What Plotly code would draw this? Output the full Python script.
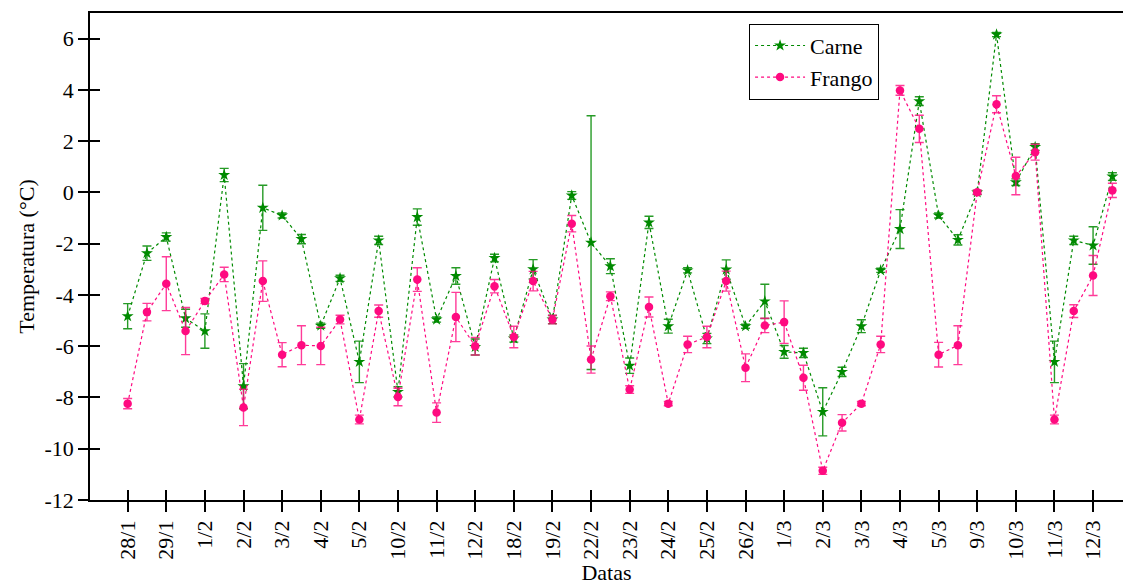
import plotly.graph_objects as go

dates = ["28/1", "29/1", "1/2", "2/2", "3/2", "4/2", "5/2", "10/2", "11/2", "12/2",
         "18/2", "19/2", "22/2", "23/2", "24/2", "25/2", "26/2", "1/3", "2/3", "3/3",
         "4/3", "5/3", "9/3", "10/3", "11/3", "12/3"]

carne = [-4.83, -2.37, -1.74, -4.91, -5.41, 0.68, -7.56, -0.60, -0.90, -1.82,
         -5.20, -3.35, -6.61, -1.87, -7.78, -0.96, -4.96, -3.26, -6.03, -2.56,
         -5.70, -3.00, -4.96, -0.12, -1.96, -2.88, -6.76, -1.17, -5.22, -3.04,
         -5.70, -3.01, -5.22, -4.25, -6.22, -6.26, -8.56, -7.00, -5.22, -3.04,
         -1.43, 3.56, -0.90, -1.85, 0.00, 6.16, 0.40, 1.77, -6.61, -1.87,
         -2.07, 0.62]
carne_err = [0.49, 0.28, 0.16, 0.35, 0.67, 0.26, 0.88, 0.88, 0.10, 0.18,
             0.10, 0.12, 0.81, 0.16, 0.20, 0.32, 0.10, 0.32, 0.31, 0.15,
             0.14, 0.38, 0.16, 0.15, 4.95, 0.29, 0.30, 0.24, 0.27, 0.10,
             0.20, 0.38, 0.08, 0.67, 0.25, 0.18, 0.94, 0.18, 0.25, 0.08,
             0.76, 0.17, 0.10, 0.20, 0.08, 0.08, 0.13, 0.13, 0.81, 0.16,
             0.73, 0.15]

frango = [-8.24, -4.67, -3.56, -5.41, -4.24, -3.20, -8.39, -3.46, -6.33, -5.96,
          -5.99, -4.96, -8.86, -4.63, -7.98, -3.40, -8.59, -4.86, -6.00, -3.66,
          -5.64, -3.46, -4.96, -1.22, -6.52, -4.05, -7.69, -4.47, -8.24, -5.93,
          -5.64, -3.46, -6.84, -5.19, -5.06, -7.23, -10.86, -8.99, -8.24, -5.93,
          3.98, 2.48, -6.33, -5.96, 0.01, 3.44, 0.64, 1.57, -8.86, -4.63,
          -3.24, 0.08]
frango_err = [0.20, 0.34, 1.05, 0.92, 0.10, 0.28, 0.71, 0.79, 0.47, 0.76,
              0.73, 0.17, 0.17, 0.24, 0.34, 0.46, 0.38, 0.96, 0.34, 0.26,
              0.42, 0.38, 0.17, 0.32, 0.53, 0.17, 0.15, 0.39, 0.08, 0.32,
              0.42, 0.39, 0.54, 0.28, 0.83, 0.49, 0.14, 0.32, 0.08, 0.32,
              0.19, 0.53, 0.48, 0.76, 0.08, 0.33, 0.73, 0.31, 0.17, 0.25,
              0.78, 0.28]

y_ticks = [-12, -10, -8, -6, -4, -2, 0, 2, 4, 6]
y_ticktext = ["-12", "-10", "-8", "-6", "-4", "-2", "0", "2", "4", "6"]

GREEN = "#008a00"
PINK = "#ff0a80"
FONT = "Liberation Serif, Times New Roman, serif"

x = list(range(len(carne)))
tickvals = [2 * i for i in range(len(dates))]

fig = go.Figure()
fig.add_trace(go.Scatter(
    x=x, y=carne, name="Carne", mode="lines+markers",
    line=dict(color=GREEN, width=1.2, dash="dot"),
    marker=dict(symbol="star", size=9, color=GREEN),
    error_y=dict(type="data", array=carne_err, visible=True,
                 color="rgba(0,138,0,0.85)", thickness=1.4, width=4.5),
))
fig.add_trace(go.Scatter(
    x=x, y=frango, name="Frango", mode="lines+markers",
    line=dict(color=PINK, width=1.2, dash="dot"),
    marker=dict(symbol="circle", size=8.5, color=PINK),
    error_y=dict(type="data", array=frango_err, visible=True,
                 color="rgba(255,10,128,0.8)", thickness=1.4, width=4.5),
))
# invisible helper trace for the inner half of the crossing ticks
fig.add_trace(go.Scatter(x=[0], y=[0], xaxis="x2", yaxis="y2", mode="markers",
                         marker=dict(opacity=0), showlegend=False, hoverinfo="skip"))

xr = [-1.95, 51.55]
yr = [-12, 7]

fig.update_layout(
    width=1123, height=587,
    margin=dict(l=90, r=0, t=13, b=87),
    paper_bgcolor="white", plot_bgcolor="white",
    font=dict(family=FONT, size=22, color="black"),
    showlegend=True,
    legend=dict(x=0.638, y=0.978, xanchor="left", yanchor="top",
                bordercolor="black", borderwidth=1, bgcolor="white",
                font=dict(family=FONT, size=22), tracegroupgap=0,
                itemwidth=50),
    xaxis=dict(range=xr, tickmode="array", tickvals=tickvals, ticktext=dates,
               tickangle=-90, ticks="outside", ticklen=10, tickwidth=1.5,
               tickcolor="black", showline=True, linecolor="black", linewidth=1.5,
               mirror=True, showgrid=False, zeroline=False,
               tickfont=dict(family=FONT, size=22),
               title=dict(text="Datas", font=dict(family=FONT, size=22), standoff=5)),
    yaxis=dict(range=yr, tickmode="array", tickvals=y_ticks, ticktext=y_ticktext,
               ticks="outside", ticklen=10, tickwidth=1.5, tickcolor="black",
               showline=True, linecolor="black", linewidth=1.5,
               showgrid=False, zeroline=False,
               tickfont=dict(family=FONT, size=22),
               title=dict(text="Temperatura (°C)", font=dict(family=FONT, size=22),
                          standoff=4)),
    xaxis2=dict(range=xr, overlaying="x", anchor="y", side="bottom",
                tickmode="array", tickvals=tickvals, ticks="inside", ticklen=10,
                tickwidth=1.5, tickcolor="black", showticklabels=False,
                showline=False, showgrid=False, zeroline=False),
    yaxis2=dict(range=yr, overlaying="y", anchor="x", side="left",
                tickmode="array", tickvals=y_ticks, ticks="inside", ticklen=10,
                tickwidth=1.5, tickcolor="black", showticklabels=False,
                showline=False, showgrid=False, zeroline=False),
)

fig.write_html("out.html")
